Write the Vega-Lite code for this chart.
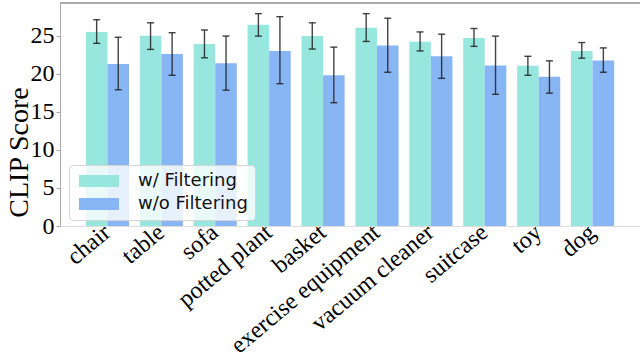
{
  "$schema": "https://vega.github.io/schema/vega-lite/v6.json",
  "autosize": "none",
  "padding": {"left": 60, "top": 3, "right": 0, "bottom": 134},
  "width": 580,
  "height": 223,
  "config": {"view": {"stroke": null}, "font": "Liberation Serif"},
  "data": {"values": [
    {"object": "chair", "method": "w/ Filtering", "mean": 25.5, "lo": 24.0, "hi": 27.1},
    {"object": "chair", "method": "w/o Filtering", "mean": 21.3, "lo": 17.9, "hi": 24.8},
    {"object": "table", "method": "w/ Filtering", "mean": 25.0, "lo": 23.2, "hi": 26.7},
    {"object": "table", "method": "w/o Filtering", "mean": 22.6, "lo": 19.8, "hi": 25.4},
    {"object": "sofa", "method": "w/ Filtering", "mean": 23.9, "lo": 22.1, "hi": 25.75},
    {"object": "sofa", "method": "w/o Filtering", "mean": 21.4, "lo": 17.85, "hi": 24.95},
    {"object": "potted plant", "method": "w/ Filtering", "mean": 26.45, "lo": 24.95, "hi": 27.9},
    {"object": "potted plant", "method": "w/o Filtering", "mean": 23.0, "lo": 18.7, "hi": 27.5},
    {"object": "basket", "method": "w/ Filtering", "mean": 24.95, "lo": 23.25, "hi": 26.7},
    {"object": "basket", "method": "w/o Filtering", "mean": 19.8, "lo": 16.2, "hi": 23.5},
    {"object": "exercise equipment", "method": "w/ Filtering", "mean": 26.05, "lo": 24.25, "hi": 27.9},
    {"object": "exercise equipment", "method": "w/o Filtering", "mean": 23.7, "lo": 20.2, "hi": 27.3},
    {"object": "vacuum cleaner", "method": "w/ Filtering", "mean": 24.2, "lo": 23.0, "hi": 25.5},
    {"object": "vacuum cleaner", "method": "w/o Filtering", "mean": 22.3, "lo": 19.4, "hi": 25.2},
    {"object": "suitcase", "method": "w/ Filtering", "mean": 24.7, "lo": 23.6, "hi": 25.95},
    {"object": "suitcase", "method": "w/o Filtering", "mean": 21.1, "lo": 17.3, "hi": 24.95},
    {"object": "toy", "method": "w/ Filtering", "mean": 21.05, "lo": 19.8, "hi": 22.3},
    {"object": "toy", "method": "w/o Filtering", "mean": 19.6, "lo": 17.45, "hi": 21.7},
    {"object": "dog", "method": "w/ Filtering", "mean": 23.0, "lo": 22.05, "hi": 24.1},
    {"object": "dog", "method": "w/o Filtering", "mean": 21.75, "lo": 20.2, "hi": 23.4}
  ]},
  "layer": [
    {
      "mark": {"type": "bar"},
      "encoding": {
        "x": {
          "field": "object", "type": "nominal", "sort": null,
          "scale": {"paddingInner": 0.2, "paddingOuter": 0.48},
          "axis": {"title": null, "labelAngle": -40, "labelAlign": "right", "labelBaseline": "middle",
                   "labelFontSize": 24, "labelColor": "#000", "ticks": false, "domainColor": "#dddddd",
                   "labelPadding": 3, "labelDy": -5, "labelLimit": 0, "labelFont": "Liberation Serif"}
        },
        "xOffset": {"field": "method", "type": "nominal", "sort": ["w/ Filtering", "w/o Filtering"], "scale": {"paddingInner": 0, "paddingOuter": 0}},
        "y": {"field": "mean", "type": "quantitative", "scale": {"domain": [0, 29.3], "nice": false},
              "axis": {"title": "CLIP Score", "titleFontSize": 28, "titleFontWeight": "normal", "titleColor": "#000",
                       "titleFont": "Liberation Serif", "labelFont": "Liberation Serif",
                       "titleX": -33, "titleY": 149, "titleBaseline": "alphabetic", "titleAlign": "center", "titleAngle": -90,
                       "labelFontSize": 24, "labelColor": "#000", "values": [0, 5, 10, 15, 20, 25],
                       "grid": false, "domainColor": "#aaaaaa", "tickColor": "#aaaaaa", "tickSize": 4,
                       "labelPadding": 2}},
        "color": {"field": "method", "type": "nominal",
                  "scale": {"domain": ["w/ Filtering", "w/o Filtering"], "range": ["#97E7DE", "#88B5F4"]},
                  "legend": {"title": null, "orient": "none", "legendX": 9, "legendY": 162,
                             "fillColor": "rgba(255,255,255,0.8)", "strokeColor": "#d5d5d5", "cornerRadius": 4,
                             "padding": 7, "labelFont": "DejaVu Sans", "labelFontSize": 18, "labelColor": "#111",
                             "symbolType": "M-3.333,-1H3.333V1H-3.333Z", "symbolSize": 144, "symbolStrokeWidth": 0,
                             "symbolOpacity": 1, "symbolOffset": 14, "labelOffset": 30, "rowPadding": 5}}
      }
    },
    {
      "mark": {"type": "errorbar", "color": "#222222", "opacity": 0.85, "thickness": 1.4, "ticks": {"size": 7, "color": "#222222"}},
      "encoding": {
        "x": {"field": "object", "type": "nominal", "sort": null},
        "xOffset": {"field": "method", "type": "nominal", "sort": ["w/ Filtering", "w/o Filtering"]},
        "y": {"field": "lo", "type": "quantitative", "title": "CLIP Score"},
        "y2": {"field": "hi"}
      }
    },
    {
      "mark": {"type": "rule", "color": "#aaaaaa"},
      "encoding": {"y": {"datum": 29.3}}
    }
  ]
}
